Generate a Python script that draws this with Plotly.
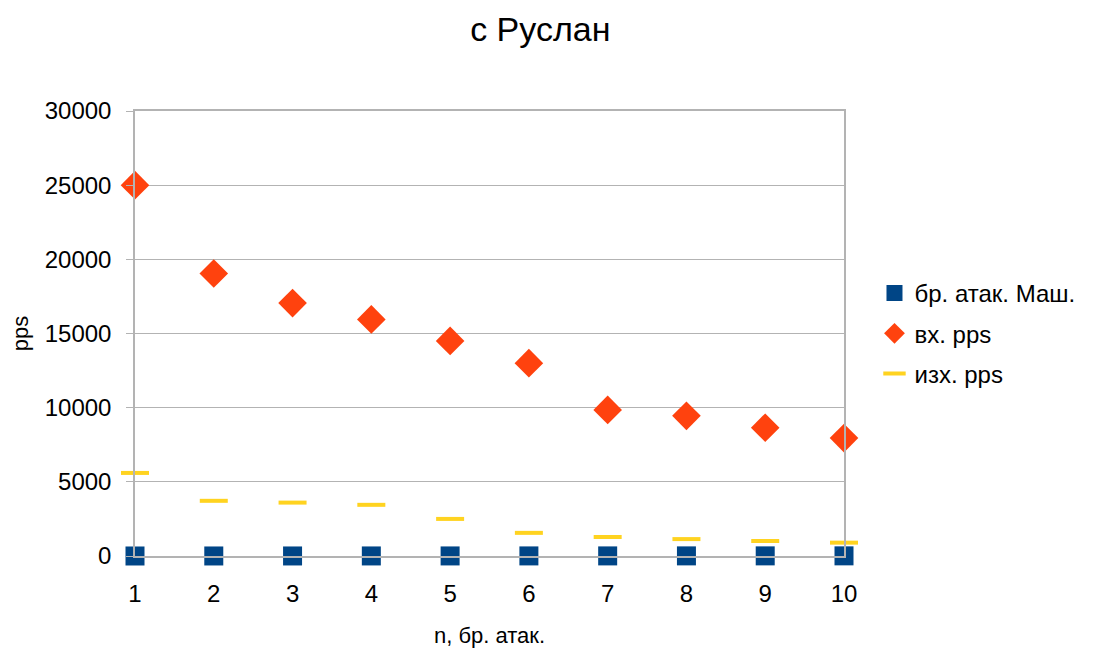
import plotly.graph_objects as go

n_attacks = [1, 2, 3, 4, 5, 6, 7, 8, 9, 10]
machines = [1, 2, 3, 4, 5, 6, 7, 8, 9, 10]
in_pps = [25000, 19050, 17050, 15950, 14500, 13000, 9850, 9450, 8650, 7950]
out_pps = [5600, 3720, 3600, 3450, 2500, 1560, 1280, 1140, 1010, 900]
y_ticks = [0, 5000, 10000, 15000, 20000, 25000, 30000]

FONT = "Liberation Sans, Arial, sans-serif"
GRID = "#b3b3b3"

fig = go.Figure()
fig.add_trace(go.Scatter(
    x=n_attacks, y=machines, mode="markers", name="бр. атак. Маш.",
    legendgroup="a",
    marker=dict(symbol="square", size=19, color="#004586"),
    cliponaxis=False))
fig.add_trace(go.Scatter(
    x=n_attacks, y=in_pps, mode="markers", name="вх. pps",
    legendgroup="b",
    marker=dict(symbol="diamond", size=22, color="#ff420e"),
    cliponaxis=False))
fig.add_trace(go.Scatter(
    x=n_attacks, y=out_pps, mode="markers", name="изх. pps",
    legendgroup="c",
    marker=dict(symbol="line-ew", size=20, color="#ffd320",
                line=dict(color="#ffd320", width=4)),
    cliponaxis=False))

fig.update_layout(
    width=1093, height=650,
    margin=dict(l=127, r=257, t=103, b=102),
    paper_bgcolor="white", plot_bgcolor="white",
    font=dict(family=FONT, color="black"),
    title=dict(text="с Руслан", x=0.487, xanchor="center", y=0.968, yanchor="middle",
               font=dict(size=34, family=FONT)),
    showlegend=True,
    legend=dict(x=1.043, xanchor="left", y=0.5, yanchor="middle",
                font=dict(size=24, family=FONT), tracegroupgap=6,
                traceorder="grouped", itemsizing="trace"),
    xaxis=dict(range=[1, 10], tickmode="array", tickvals=n_attacks,
               ticktext=[str(v) for v in n_attacks],
               showgrid=False, zeroline=False, showline=True, mirror=True,
               linecolor=GRID, linewidth=1.5, ticks="",
               ticklabelstandoff=15, automargin=False,
               tickfont=dict(size=24, family=FONT),
               title=dict(text="n, бр. атак.", font=dict(size=22, family=FONT), standoff=22)),
    yaxis=dict(range=[0, 30000], tickmode="array", tickvals=y_ticks,
               ticktext=[str(v) for v in y_ticks],
               showgrid=True, gridcolor=GRID, gridwidth=1.2, zeroline=False,
               showline=True, mirror=True, linecolor=GRID, linewidth=1.5,
               ticks="outside", ticklen=7, tickcolor=GRID,
               ticklabelstandoff=10, automargin=False,
               tickfont=dict(size=24, family=FONT),
               title=dict(text="pps", font=dict(size=22, family=FONT), standoff=20)),
)

fig.write_html("out.html")
